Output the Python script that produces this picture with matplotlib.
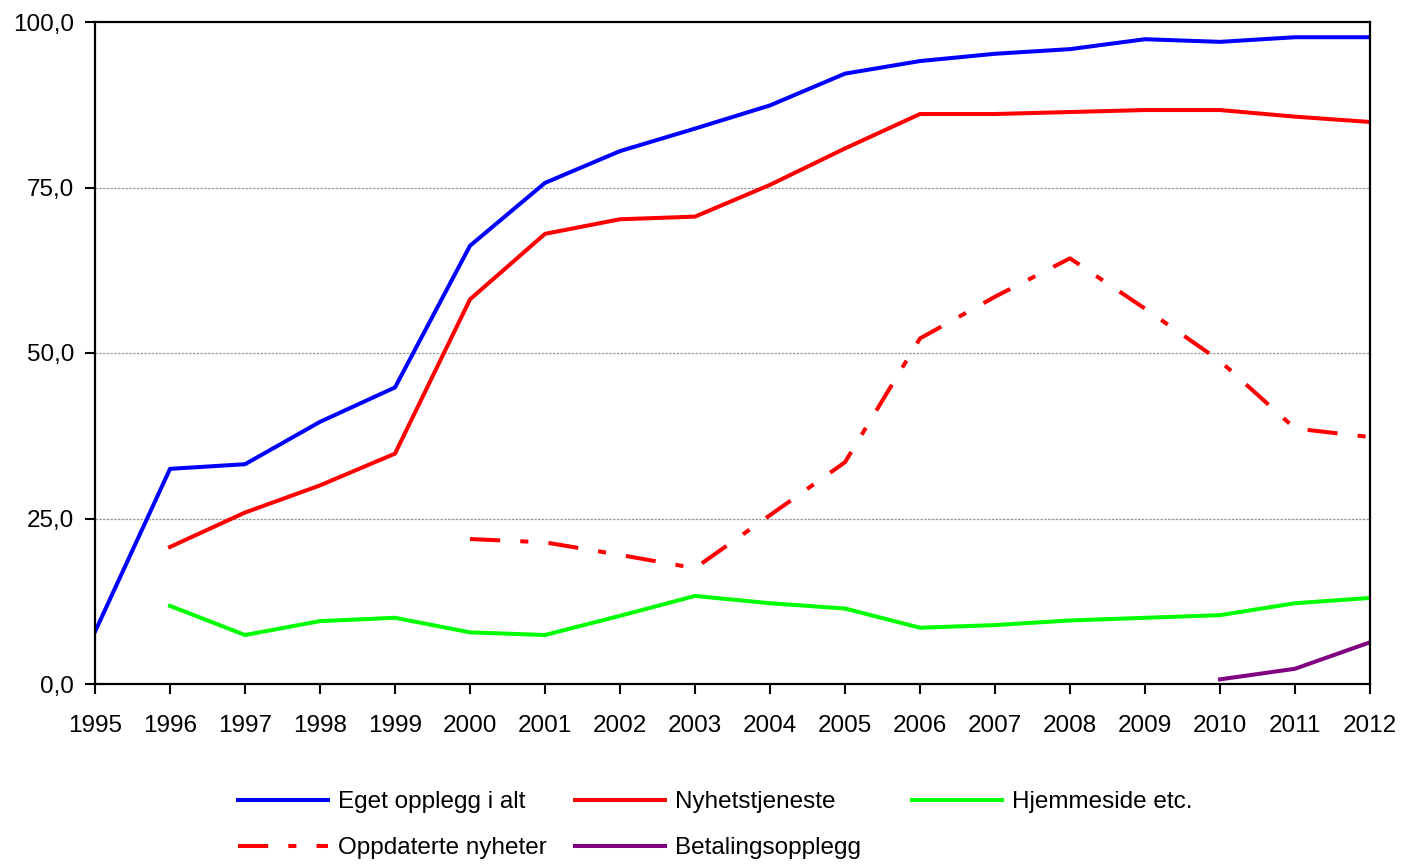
import matplotlib
matplotlib.use("Agg")
import matplotlib.pyplot as plt
import numpy as np

plt.rcParams['font.family'] = ['Liberation Sans', 'DejaVu Sans']

years = list(range(1995, 2013))
eget = [7.9, 32.5, 33.2, 39.6, 44.8, 66.2, 75.7, 80.5, 83.9, 87.4, 92.2, 94.1, 95.2, 95.9, 97.4, 97.0, 97.7, 97.7]
nyhets_years = list(range(1996, 2013))
nyhets = [20.7, 25.9, 30.0, 34.8, 58.1, 68.0, 70.2, 70.6, 75.4, 80.9, 86.1, 86.1, 86.4, 86.7, 86.7, 85.7, 84.9]
hjem_years = list(range(1996, 2013))
hjem = [11.8, 7.4, 9.5, 10.0, 7.8, 7.4, 10.3, 13.3, 12.2, 11.4, 8.5, 8.9, 9.6, 10.0, 10.4, 12.2, 13.0]
oppd_years = list(range(2000, 2013))
oppd = [21.9, 21.4, 19.5, 17.5, 25.5, 33.5, 52.2, 58.5, 64.3, 56.7, 48.8, 38.6, 37.3]
betal_years = [2010, 2011, 2012]
betal = [0.7, 2.3, 6.3]

yticks = [0, 25, 50, 75, 100]
ytick_labels = ["0,0", "25,0", "50,0", "75,0", "100,0"]

fs = 17.5

fig = plt.figure(figsize=(14.04, 8.64), dpi=100)
ax = fig.add_axes([95/1404, 1-684/864, (1370-95)/1404, (684-22)/864])

lw = 2.9
l1, = ax.plot(years, eget, color='#0000FF', lw=lw, label='Eget opplegg i alt')
l2, = ax.plot(nyhets_years, nyhets, color='#FF0000', lw=lw, label='Nyhetstjeneste')
l3, = ax.plot(hjem_years, hjem, color='#00FF00', lw=lw, label='Hjemmeside etc.')
l4, = ax.plot(oppd_years, oppd, color='#FF0000', lw=lw, label='Oppdaterte nyheter',
              dashes=(7.5, 5.0, 2.0, 5.0), dash_capstyle='butt')
l5, = ax.plot(betal_years, betal, color='#800080', lw=lw, label='Betalingsopplegg')

ax.set_xlim(1995, 2012)
ax.set_ylim(0, 100)
ax.set_xticks(years)
ax.set_xticklabels([str(y) for y in years])
ax.set_yticks(yticks)
ax.set_yticklabels(ytick_labels)
for y in [25, 50, 75]:
    ax.axhline(y, color='#999999', lw=0.9, ls=(0, (2, 1)), zorder=0)

for s in ax.spines.values():
    s.set_linewidth(1.6)
    s.set_color('black')
ax.tick_params(axis='both', direction='out', length=7, width=1.5, labelsize=fs, colors='black')
ax.tick_params(axis='x', pad=15)
ax.tick_params(axis='y', pad=8)

columns = [([l1, l4], 238), ([l2, l5], 575), ([l3], 912)]
for handles, xpx in columns:
    leg = fig.legend(handles=handles, loc='upper left', bbox_to_anchor=(xpx/1404, 1-791/864),
                     ncol=1, frameon=False, fontsize=fs, handlelength=3.7, handletextpad=0.4,
                     labelspacing=1.0, borderaxespad=0, borderpad=0)

fig.savefig('out.png', dpi=100)
